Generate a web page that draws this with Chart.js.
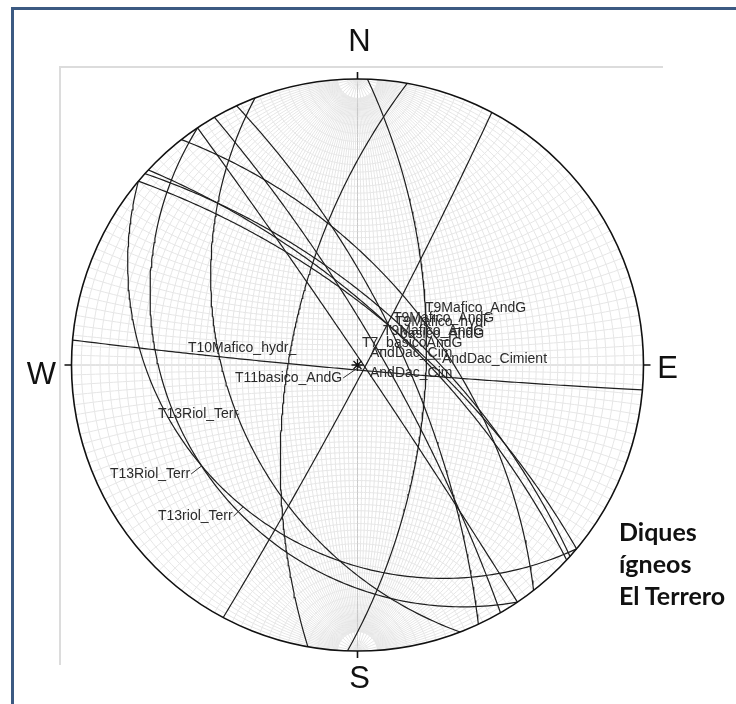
<!DOCTYPE html>
<html>
<head>
<meta charset="utf-8">
<script src="https://cdn.jsdelivr.net/npm/chart.js@4.4.0/dist/chart.umd.min.js"></script>
<style>
  html, body { margin: 0; padding: 0; background: #fff; }
  #wrap { position: relative; width: 736px; height: 704px; overflow: hidden; }
  #edge { position: absolute; left: 11px; top: 7px; width: 760px; height: 720px;
          border-left: 3px solid #3c5a82; border-top: 3px solid #3c5a82; }
  #net { position: absolute; left: 0; top: 0; }
  #note { position: absolute; left: 619px; top: 515px; font: bold 25px Lato, "Open Sans", sans-serif;
          line-height: 32px; color: #111; }
</style>
</head>
<body>
<div id="wrap">
  <div id="edge"></div>
  <canvas id="net" width="736" height="704"></canvas>
  <div id="note">Diques<br>ígneos<br>El Terrero</div>
</div>
<script>
// Dike planes, right-hand-rule strike / dip (degrees)
const dikeNames = [
  "T9Mafico_AndG", "T9Mafico_AndG", "T9Mafico_hydr", "T9Mafico_AndG", "basico_AndG",
  "T7_basicoAndG", "AndDac_Cim", "AndDac_Cimient", "AndDac_Cim", "T11basico_AndG",
  "T10Mafico_hydr_", "T13Riol_Terr", "T13Riol_Terr", "T13riol_Terr"
];
const dikeStrikes = [322, 310, 312, 313, 330, 335, 28, 2, 190, 326, 95, 159, 146, 130];
const dikeDips    = [59, 70, 67, 70, 80, 72, 87, 63, 63, 88, 88, 41, 24, 25];

// label text placement (left / baseline, px from net centre) and whether a leader is drawn
const labelSpots = [
  [67.5, -53], [35.5, -43], [37.5, -39], [25.5, -30], [42.5, -27],
  [4.5, -18], [12.5, -8], [84.5, -2], [12.5, 12], [-122.5, 17],
  [-169.5, -13], [-199.5, 53], [-247.5, 113], [-199.5, 155]
];
const labelLeader = [false, false, false, false, false, false, false, true, false, true, false, true, true, true];

const rad = Math.PI / 180;

// lower-hemisphere equal-angle projection of a unit vector (east, north, down)
function project(e, n, d) {
  return { x: e / (1 + d), y: n / (1 + d) };
}

function greatCircle(strike, dip) {
  const s = strike * rad, dd = (strike + 90) * rad, dp = dip * rad;
  const sv = [Math.sin(s), Math.cos(s), 0];
  const dv = [Math.cos(dp) * Math.sin(dd), Math.cos(dp) * Math.cos(dd), Math.sin(dp)];
  const pts = [];
  for (let t = 0; t <= 180; t += 1) {
    const c = Math.cos(t * rad), si = Math.sin(t * rad);
    pts.push(project(c * sv[0] + si * dv[0], c * sv[1] + si * dv[1], c * sv[2] + si * dv[2]));
  }
  return pts;
}

// net point for longitude / latitude on the N-S axis
function netPoint(lon, lat) {
  const cl = Math.cos(lat * rad), k = 1 + cl * Math.cos(lon * rad);
  return { x: cl * Math.sin(lon * rad) / k, y: Math.sin(lat * rad) / k };
}

const datasets = dikeNames.map((name, i) => ({
  label: name,
  data: greatCircle(dikeStrikes[i], dikeDips[i]),
  showLine: true,
  pointRadius: 0,
  borderColor: "#1e1e1e",
  borderWidth: 1.2,
  tension: 0
}));

const netPlugin = {
  id: "wulffNet",
  beforeDatasetsDraw(chart) {
    const { ctx, chartArea: a, scales: { x, y } } = chart;
    const px = v => x.getPixelForValue(v), py = v => y.getPixelForValue(v);
    ctx.save();
    ctx.strokeStyle = "#dcdcdc";
    ctx.lineWidth = 2;
    ctx.beginPath();
    ctx.moveTo(a.left, a.bottom);
    ctx.lineTo(a.left, a.top);
    ctx.lineTo(a.right, a.top);
    ctx.stroke();

    const line = (pts, color, w) => {
      ctx.strokeStyle = color;
      ctx.lineWidth = w;
      ctx.beginPath();
      pts.forEach((p, j) => j ? ctx.lineTo(px(p.x), py(p.y)) : ctx.moveTo(px(p.x), py(p.y)));
      ctx.stroke();
    };
    // small circles
    for (let lat = -88; lat <= 88; lat += 2) {
      const pts = [];
      for (let lon = -90; lon <= 90; lon += 1) pts.push(netPoint(lon, lat));
      line(pts, lat === 0 ? "#c8c8c8" : "#e6e6e6", 1);
    }
    // meridians; only every 10 degrees reaches the poles
    for (let lon = -88; lon <= 88; lon += 2) {
      const lim = lon % 10 === 0 ? 90 : 86;
      const pts = [];
      for (let lat = -lim; lat <= lim; lat += 1) pts.push(netPoint(lon, lat));
      line(pts, lon === 0 ? "#c8c8c8" : "#e6e6e6", 1);
    }
    ctx.restore();
  },
  afterDatasetsDraw(chart) {
    const { ctx, scales: { x, y } } = chart;
    const cx = x.getPixelForValue(0), cy = y.getPixelForValue(0);
    const r = x.getPixelForValue(1) - cx;
    ctx.save();
    ctx.strokeStyle = "#111";
    ctx.lineWidth = 1.6;
    ctx.beginPath();
    ctx.arc(cx, cy, r, 0, 2 * Math.PI);
    ctx.stroke();
    ctx.beginPath();
    ctx.moveTo(cx - r - 7, cy); ctx.lineTo(cx - r, cy);
    ctx.moveTo(cx + r, cy); ctx.lineTo(cx + r + 7, cy);
    ctx.moveTo(cx, cy - r - 7); ctx.lineTo(cx, cy - r);
    ctx.moveTo(cx, cy + r); ctx.lineTo(cx, cy + r + 7);
    ctx.stroke();
    // centre mark
    ctx.lineWidth = 1.3;
    ctx.beginPath();
    ctx.moveTo(cx - 6, cy); ctx.lineTo(cx + 6, cy);
    ctx.moveTo(cx, cy - 6); ctx.lineTo(cx, cy + 6);
    ctx.moveTo(cx - 4, cy - 4); ctx.lineTo(cx + 4, cy + 4);
    ctx.moveTo(cx + 4, cy - 4); ctx.lineTo(cx - 4, cy + 4);
    ctx.stroke();

    ctx.fillStyle = "#111";
    ctx.font = '31px "Liberation Sans", Arial, sans-serif';
    ctx.textAlign = "center";
    ctx.textBaseline = "alphabetic";
    ctx.fillText("N", cx + 2, cy - r - 28);
    ctx.fillText("S", cx + 2, cy + r + 37);
    ctx.fillText("W", cx - r - 30, cy + 19);
    ctx.fillText("E", cx + r + 24, cy + 13);

    // dike labels; leaders run to the nearest point of their own circle
    ctx.font = '14px "Liberation Sans", Arial, sans-serif';
    ctx.textAlign = "left";
    ctx.fillStyle = "#2a2a2a";
    ctx.strokeStyle = "#333";
    ctx.lineWidth = 1;
    chart.data.datasets.forEach((ds, i) => {
      const tx = cx + labelSpots[i][0], ty = cy + labelSpots[i][1];
      const w = ctx.measureText(ds.label).width;
      ctx.fillText(ds.label, tx, ty);
      if (!labelLeader[i]) return;
      let best = null, bd = Infinity;
      [[tx - 1, ty - 4], [tx + w + 1, ty - 4]].forEach(([ex, ey]) => {
        ds.data.forEach(p => {
          const qx = x.getPixelForValue(p.x), qy = y.getPixelForValue(p.y);
          const d = Math.hypot(qx - ex, qy - ey);
          if (d < bd) { bd = d; best = [ex, ey, qx, qy]; }
        });
      });
      ctx.beginPath();
      ctx.moveTo(best[0], best[1]);
      ctx.lineTo(best[2], best[3]);
      ctx.stroke();
    });
    ctx.restore();
  }
};

new Chart(document.getElementById("net"), {
  type: "scatter",
  data: { datasets },
  options: {
    responsive: false,
    animation: false,
    layout: { padding: { left: 60, top: 67, right: 73, bottom: 39 } },
    plugins: { legend: { display: false }, tooltip: { enabled: false } },
    scales: {
      x: { display: false, min: -297.5 / 286, max: 305.5 / 286 },
      y: { display: false, min: -300 / 286, max: 298 / 286 }
    }
  },
  plugins: [netPlugin]
});
</script>
</body>
</html>
